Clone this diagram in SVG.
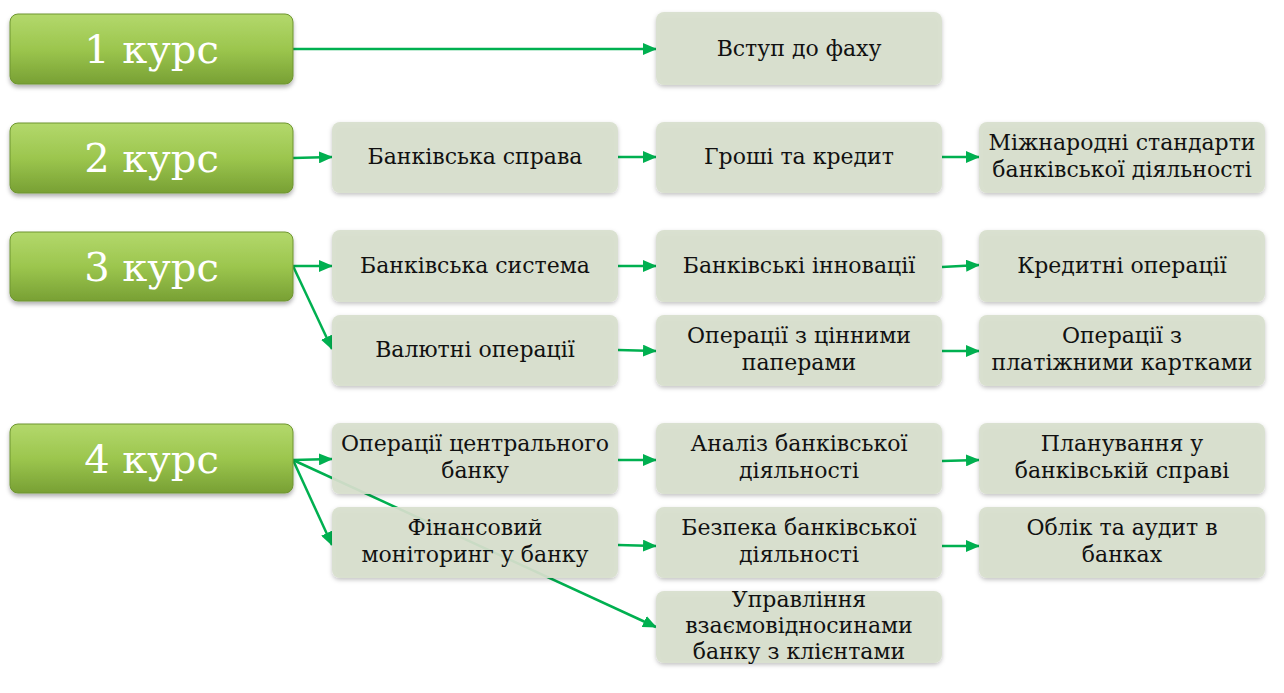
<svg xmlns="http://www.w3.org/2000/svg" width="1284" height="693" viewBox="0 0 1284 693">
<defs>
<linearGradient id="gg" x1="0" y1="0" x2="0" y2="1">
<stop offset="0" stop-color="#b3d86c"/>
<stop offset="0.5" stop-color="#9cc64e"/>
<stop offset="1" stop-color="#78a034"/>
</linearGradient>
<filter id="sh" x="-10%" y="-20%" width="120%" height="150%">
<feDropShadow dx="0" dy="3" stdDeviation="2" flood-color="#000" flood-opacity="0.3"/>
</filter>
<filter id="sh2" x="-10%" y="-20%" width="120%" height="150%">
<feDropShadow dx="0" dy="2" stdDeviation="2" flood-color="#000" flood-opacity="0.25"/>
</filter>
<marker id="ah" markerUnits="userSpaceOnUse" markerWidth="14" markerHeight="12" refX="13" refY="6" orient="auto">
<path d="M0,0 L14,6 L0,12 Z" fill="#00b050"/>
</marker>
</defs>
<style>
.g rect{fill:url(#gg);stroke:#6e9530;stroke-width:1;filter:url(#sh)}
.g text{fill:#fff;text-anchor:middle}
.n rect{fill:#d8dfcd;fill-opacity:0.92;filter:url(#sh2)}
.n text{fill:#111;text-anchor:middle}
#connectors line{stroke:#00b050;stroke-width:2.5;marker-end:url(#ah)}
</style>
<rect width="1284" height="693" fill="#fff"/>
<g id="connectors">
<line x1="293" y1="49" x2="656" y2="49"/>
<line x1="293" y1="158" x2="332" y2="157"/>
<line x1="618" y1="157" x2="656" y2="157"/>
<line x1="942" y1="157" x2="979" y2="157"/>
<line x1="293" y1="266" x2="332" y2="266"/>
<line x1="293" y1="266" x2="332" y2="349"/>
<line x1="618" y1="266" x2="656" y2="266"/>
<line x1="942" y1="267" x2="979" y2="265"/>
<line x1="618" y1="350" x2="656" y2="351"/>
<line x1="942" y1="351" x2="979" y2="351"/>
<line x1="293" y1="460" x2="332" y2="459"/>
<line x1="293" y1="460" x2="332" y2="545"/>
<line x1="293" y1="460" x2="656" y2="627"/>
<line x1="618" y1="460" x2="656" y2="460"/>
<line x1="942" y1="461" x2="979" y2="460"/>
<line x1="618" y1="545" x2="656" y2="546"/>
<line x1="942" y1="546" x2="979" y2="546"/>
</g>
<g font-family="DejaVu Serif, serif" font-size="40">
<g id="k1" class="g"><rect x="10" y="14" width="283" height="70" rx="8"/><text x="151.5" y="63">1 курс</text></g>
<g id="k2" class="g"><rect x="10" y="123" width="283" height="70" rx="8"/><text x="151.5" y="172">2 курс</text></g>
<g id="k3" class="g"><rect x="10" y="232" width="283" height="69" rx="8"/><text x="151.5" y="281">3 курс</text></g>
<g id="k4" class="g"><rect x="10" y="424" width="283" height="69" rx="8"/><text x="151.5" y="473">4 курс</text></g>
</g>
<g font-family="DejaVu Serif, serif" font-size="22">
<g id="n_vstup" class="n"><rect x="656" y="12" width="286" height="73" rx="8"/><text x="799" y="56">Вступ до фаху</text></g>

<g id="n_bs" class="n"><rect x="332" y="122" width="286" height="71" rx="8"/><text x="475" y="164">Банківська справа</text></g>
<g id="n_gk" class="n"><rect x="656" y="122" width="286" height="71" rx="8"/><text x="799" y="164">Гроші та кредит</text></g>
<g id="n_ms" class="n"><rect x="979" y="122" width="286" height="71" rx="8"/><text x="1122" y="150">Міжнародні стандарти</text><text x="1122" y="177">банківської діяльності</text></g>

<g id="n_bsys" class="n"><rect x="332" y="230" width="286" height="72" rx="8"/><text x="475" y="273">Банківська система</text></g>
<g id="n_bi" class="n"><rect x="656" y="230" width="286" height="72" rx="8"/><text x="799" y="273">Банківські інновації</text></g>
<g id="n_ko" class="n"><rect x="979" y="230" width="286" height="72" rx="8"/><text x="1122" y="273">Кредитні операції</text></g>

<g id="n_vo" class="n"><rect x="332" y="315" width="286" height="71" rx="8"/><text x="475" y="357">Валютні операції</text></g>
<g id="n_ocp" class="n"><rect x="656" y="315" width="286" height="71" rx="8"/><text x="799" y="343">Операції з цінними</text><text x="799" y="370">паперами</text></g>
<g id="n_opk" class="n"><rect x="979" y="315" width="286" height="71" rx="8"/><text x="1122" y="343">Операції з</text><text x="1122" y="370">платіжними картками</text></g>

<g id="n_ocb" class="n"><rect x="332" y="423" width="286" height="71" rx="8"/><text x="475" y="451">Операції центрального</text><text x="475" y="478">банку</text></g>
<g id="n_abd" class="n"><rect x="656" y="423" width="286" height="71" rx="8"/><text x="799" y="451">Аналіз банківської</text><text x="799" y="478">діяльності</text></g>
<g id="n_pbs" class="n"><rect x="979" y="423" width="286" height="71" rx="8"/><text x="1122" y="451">Планування  у</text><text x="1122" y="478">банківській справі</text></g>

<g id="n_fm" class="n"><rect x="332" y="507" width="286" height="71" rx="8"/><text x="475" y="535">Фінансовий</text><text x="475" y="562">моніторинг у банку</text></g>
<g id="n_bbd" class="n"><rect x="656" y="507" width="286" height="71" rx="8"/><text x="799" y="535">Безпека банківської</text><text x="799" y="562">діяльності</text></g>
<g id="n_oab" class="n"><rect x="979" y="507" width="286" height="71" rx="8"/><text x="1122" y="535">Облік та аудит в</text><text x="1122" y="562">банках</text></g>

<g id="n_uvk" class="n"><rect x="656" y="591" width="286" height="72" rx="8"/><text x="799" y="607">Управління</text><text x="799" y="633">взаємовідносинами</text><text x="799" y="659">банку з клієнтами</text></g>
</g>
</svg>
